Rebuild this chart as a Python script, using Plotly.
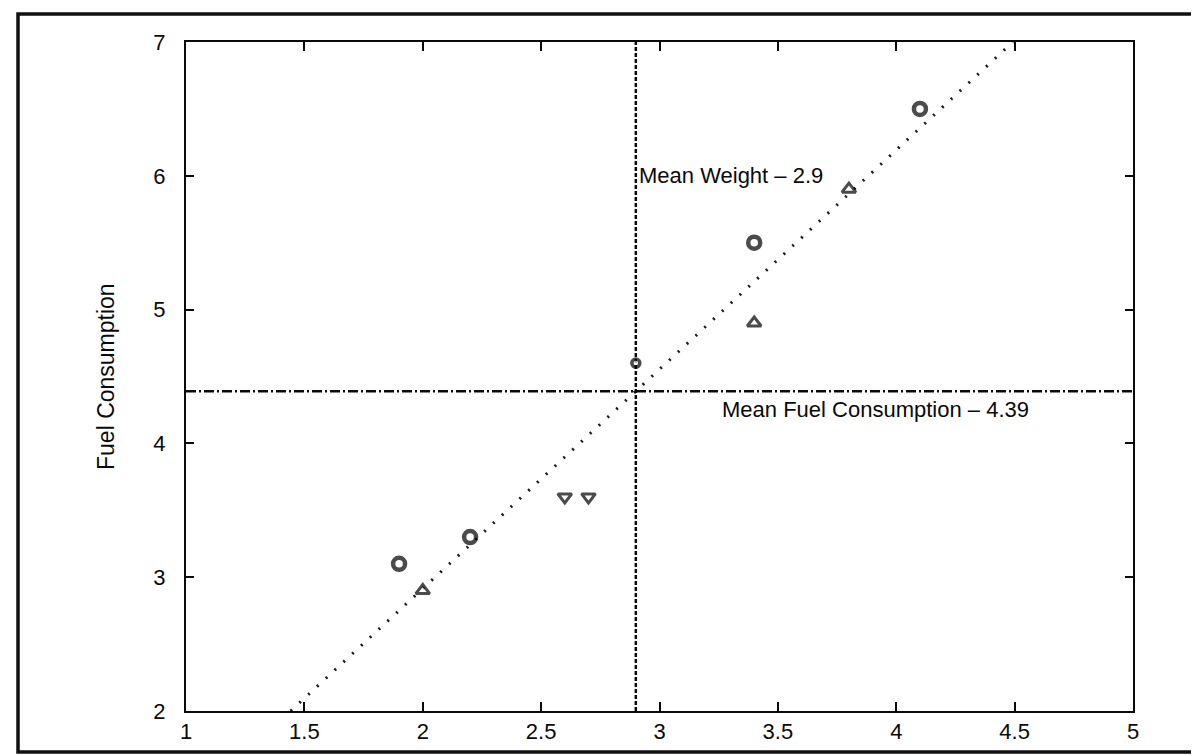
import numpy as np
import plotly.graph_objects as go

# ---- data ----
weight = [1.9, 2.0, 2.2, 2.6, 2.7, 2.9, 3.4, 3.4, 3.8, 4.1]
fuel = [3.1, 2.9, 3.3, 3.6, 3.6, 4.6, 5.5, 4.9, 5.9, 6.5]
symbols = ["circle", "triangle-up", "circle", "triangle-down",
           "triangle-down", "circle", "circle", "triangle-up",
           "triangle-up", "circle"]
sizes = [12, 12, 12, 12, 12, 8, 12, 12, 12, 12]
line_widths = [4.5, 3, 4.5, 3, 3, 3.5, 4.5, 3, 3, 4.5]
x_ticks = [1, 1.5, 2, 2.5, 3, 3.5, 4, 4.5, 5]
x_tick_labels = ["1", "1.5", "2", "2.5", "3", "3.5", "4", "4.5", "5"]
y_ticks = [2, 3, 4, 5, 6, 7]
y_tick_labels = ["2", "3", "4", "5", "6", "7"]

mean_w = float(np.mean(weight))
mean_f = float(np.mean(fuel))
m, b = np.polyfit(weight, fuel, 1)
x_lo = (2 - b) / m
x_hi = (7 - b) / m

FONT = "Liberation Sans, Arial, sans-serif"
INK = "#0a0a0a"

fig = go.Figure()

# regression line (dotted)
fig.add_trace(go.Scatter(
    x=[x_lo, x_hi], y=[2, 7], mode="lines",
    line=dict(color="#1a1a1a", width=3, dash="2px,10px"),
    hoverinfo="skip", showlegend=False))

# mean weight (vertical dashed)
fig.add_trace(go.Scatter(
    x=[mean_w, mean_w], y=[2, 7], mode="lines",
    line=dict(color=INK, width=2.5, dash="4px,2px"),
    hoverinfo="skip", showlegend=False))

# mean fuel (horizontal dash-dot)
fig.add_trace(go.Scatter(
    x=[1, 5], y=[mean_f, mean_f], mode="lines",
    line=dict(color=INK, width=2.5, dash="10px,3px,2px,3px"),
    hoverinfo="skip", showlegend=False))

# points
fig.add_trace(go.Scatter(
    x=weight, y=fuel, mode="markers",
    marker=dict(symbol=symbols, size=sizes, color="white",
                line=dict(color="#000", width=line_widths)),
    showlegend=False))

fig.add_annotation(x=mean_w, y=6.0, xref="x", yref="y",
                   text=f"Mean Weight \u2013 {mean_w:.1f}", showarrow=False,
                   xanchor="left", yanchor="middle", xshift=1,
                   font=dict(family=FONT, size=22, color=INK))
fig.add_annotation(x=3.255, y=4.25, xref="x", yref="y",
                   text=f"Mean Fuel Consumption \u2013 {mean_f:.2f}", showarrow=False,
                   xanchor="left", yanchor="middle",
                   font=dict(family=FONT, size=22, color=INK))

# y axis title
fig.add_annotation(x=-0.085, y=0.5, xref="paper", yref="paper",
                   text="Fuel Consumption", textangle=-90, showarrow=False,
                   xanchor="center", yanchor="middle",
                   font=dict(family=FONT, size=23, color=INK))

# outer frame
fig.add_shape(type="rect", xref="paper", yref="paper",
              x0=-0.1774, x1=1.0739, y0=-0.0613, y1=1.0419,
              line=dict(color="#111", width=3.5), fillcolor="rgba(0,0,0,0)")

fig.update_xaxes(range=[1, 5], tickvals=x_ticks, ticktext=x_tick_labels,
                 showgrid=False, zeroline=False, showline=True, linecolor=INK,
                 linewidth=2, mirror="ticks", ticks="inside", ticklen=9,
                 tickwidth=2, tickcolor=INK, ticklabelstandoff=0,
                 tickfont=dict(family=FONT, size=22, color=INK))
fig.update_yaxes(range=[2, 7], tickvals=y_ticks, ticktext=y_tick_labels,
                 showgrid=False, zeroline=False, showline=True, linecolor=INK,
                 linewidth=2, mirror="ticks", ticks="inside", ticklen=8,
                 tickwidth=2, tickcolor=INK, ticklabelstandoff=14,
                 tickfont=dict(family=FONT, size=22, color=INK))

fig.update_layout(width=1199, height=755,
                  margin=dict(l=178, r=74, t=34, b=52),
                  plot_bgcolor="white", paper_bgcolor="white",
                  showlegend=False)

fig.write_html("out.html")
